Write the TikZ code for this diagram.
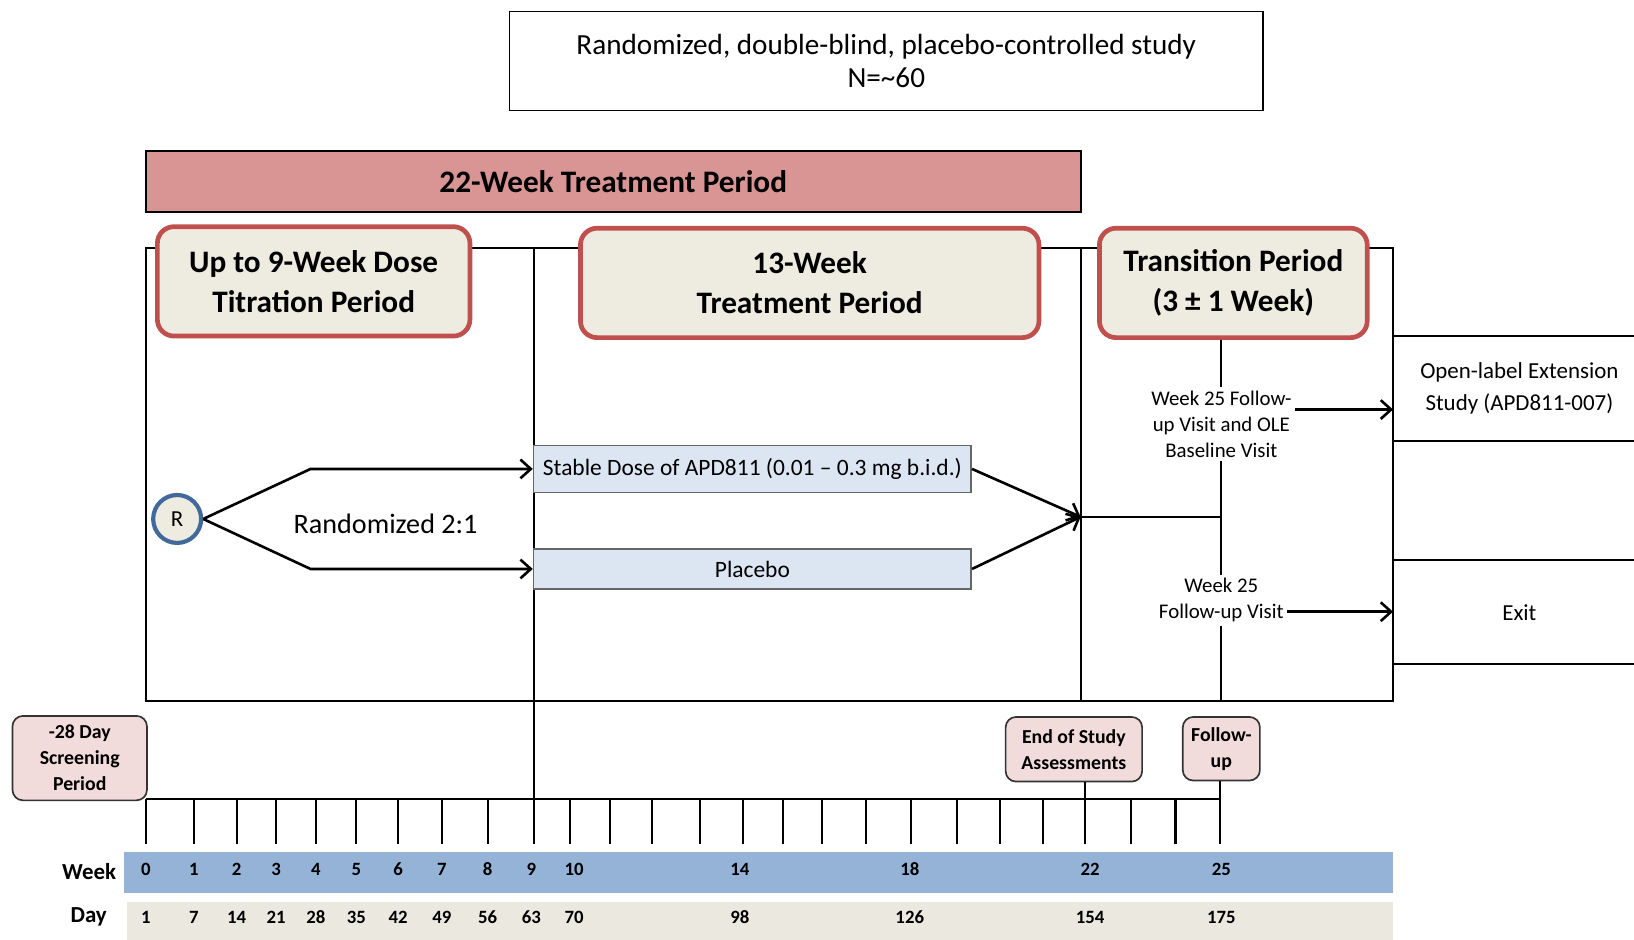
\documentclass[tikz,border=0pt]{standalone}
\usepackage{fontspec}
\setmainfont{Carlito}
\usetikzlibrary{arrows.meta,positioning}
\definecolor{barred}{HTML}{D99594}
\definecolor{phasered}{HTML}{C0504D}
\definecolor{phasebg}{HTML}{EEECE1}
\definecolor{rblue}{HTML}{41699A}
\definecolor{dosebg}{HTML}{DCE6F2}
\definecolor{eventbg}{HTML}{F2DCDB}
\definecolor{weekbg}{HTML}{95B3D7}
\definecolor{daybg}{HTML}{EAE8DF}
\begin{document}
\begin{tikzpicture}[x=1pt,y=-1pt,
  fnt/.style 2 args={font=\fontsize{#1}{#2}\selectfont},
  bfnt/.style 2 args={font=\fontsize{#1}{#2}\selectfont\bfseries},
  line/.style={line width=2pt},
  arr/.style={line width=2.5pt,-{Straight Barb[length=10pt,width=18pt]}},
  phase/.style={draw=phasered,line width=4.5pt,fill=phasebg,rounded corners=16pt,align=center,inner sep=0pt,minimum height=105pt,bfnt={30}{38}},
  dosebox/.style={draw=gray!80!black,line width=1.5pt,fill=dosebg,inner sep=0pt,minimum width=420pt,fnt={22.5}{26}},
  visit/.style={align=center,fnt={20}{25},inner sep=3pt},
  event/.style={draw=black!80,line width=1.6pt,fill=eventbg,rounded corners=10pt,align=center,inner sep=0pt,bfnt={19}{25}},
  num/.style={bfnt={18}{20}}]
\useasboundingbox (0,0) rectangle (1568,902);

\node[draw,line width=1.6pt,minimum width=723pt,minimum height=95pt,align=center,fnt={28}{32}] (title) at (850.5,58.5) {Randomized, double-blind, placebo-controlled study\\N=\textasciitilde60};
\node[draw,line width=2pt,fill=barred,minimum width=897pt,minimum height=58pt,bfnt={30}{34}] (bar) at (588.5,174) {22-Week Treatment Period};

\coordinate (fnw) at (140,238);
\coordinate (fse) at (1337,673);
\draw[line] (fnw) rectangle (fse);
\draw[line] (512,238) -- (512,810);
\draw[line] (1037,238) -- (1037,673);

\node[phase,minimum width=300pt] (ph1) at (301,270) {Up to 9-Week Dose\\Titration Period};
\node[phase,minimum width=440pt] (ph2) at (777,271.5) {13-Week\\Treatment Period};
\node[phase,minimum width=257pt] (ph3) at (1183.5,271.5) {Transition Period\\(3 ± 1 Week)};

\node[circle,draw=rblue,line width=4pt,fill=phasebg,minimum size=46pt,inner sep=0pt,fnt={22}{24}] (R) at (170,498) {R};
\node[fnt={27}{30}] (rand) at (370,503) {Randomized 2:1};
\node[dosebox,minimum height=45pt] (dose) at (722,450) {Stable Dose of APD811 (0.01 -- 0.3 mg b.i.d.)};
\node[dosebox,minimum height=38pt] (placebo) at (722,546) {Placebo};
\draw[arr] (R.east) -- ++(103,-48) -- (dose.west);
\draw[arr] (R.east) -- ++(103,48) -- (placebo.west);

\coordinate (mrg) at (1037,496);
\coordinate (jn) at (1172,496);
\draw[arr] (dose.east) -- (mrg);
\draw[arr] (placebo.east) -- (mrg);
\draw[line] (mrg) -- (jn);

\node[visit] (olev) at (1172,407) {Week 25 Follow-\\up Visit and OLE\\Baseline Visit};
\node[visit] (fuv) at (1172,576) {Week 25\\Follow-up Visit};
\draw[line] (jn |- ph3.south) -- (olev.north);
\draw[line] (olev.south) -- (fuv.north);
\draw[line] (fuv.south) -- (fuv.south |- fse);

\node[fnt={22}{31},align=center,minimum width=242pt,minimum height=100pt,inner sep=0pt] (ext) at (1458,373) {Open-label Extension\\Study (APD811-007)};
\node[fnt={22}{26},minimum width=242pt,minimum height=99pt,inner sep=0pt] (exit) at (1458,587.5) {Exit};
\draw[line] (ext.north west) -- (ext.north east) (ext.south west) -- (ext.south east);
\draw[line] (exit.north west) -- (exit.north east) (exit.south west) -- (exit.south east);
\draw[arr] ([yshift=14pt]olev.east) -- ([yshift=14pt]olev.east -| ext.west);
\draw[arr] ([yshift=-11pt]fuv.east) -- ([yshift=-11pt]fuv.east -| exit.west);

\node[event,minimum width=129pt,minimum height=81pt] (scr) at (76.5,727.5) {-28 Day\\Screening\\Period};
\node[event,minimum width=131pt,minimum height=62pt] (eos) at (1030.5,719) {End of Study\\Assessments};
\node[event,minimum width=74pt,minimum height=61pt] (fup) at (1172,718.5) {Follow-\\up};

\draw[line] (140,767) -- (1171,767);
\foreach \x [count=\i from 0] in {140,186,227,265,303,342,382,424,468,512,547,585,626,672,713,751,789,831,874,918,960,1001,1041,1085,1128,1171}
  {\coordinate (t\i) at (\x,810);
   \draw[line] (\x,767) -- (t\i);}
\draw[line] (eos.south -| t22) -- (t22);
\draw[line] (fup.south -| t25) -- (t25);

\fill[weekbg] (119,818) rectangle (1337,857);
\fill[daybg] (122,866) rectangle (1337,902);
\node[bfnt={22}{24},anchor=east] (wk) at (115,836) {Week};
\node[bfnt={22}{24},anchor=east] (dy) at (106,880) {Day};
\foreach \x/\w/\d in {140/0/1,186/1/7,227/2/14,265/3/21,303/4/28,342/5/35,382/6/42,424/7/49,468/8/56,510/9/63,551/10/70,710/14/98,873/18/126,1046/22/154,1172/25/175}
  {\node[num] at (\x,834) {\w};
   \node[num] at (\x,880) {\d};}
\end{tikzpicture}
\end{document}
